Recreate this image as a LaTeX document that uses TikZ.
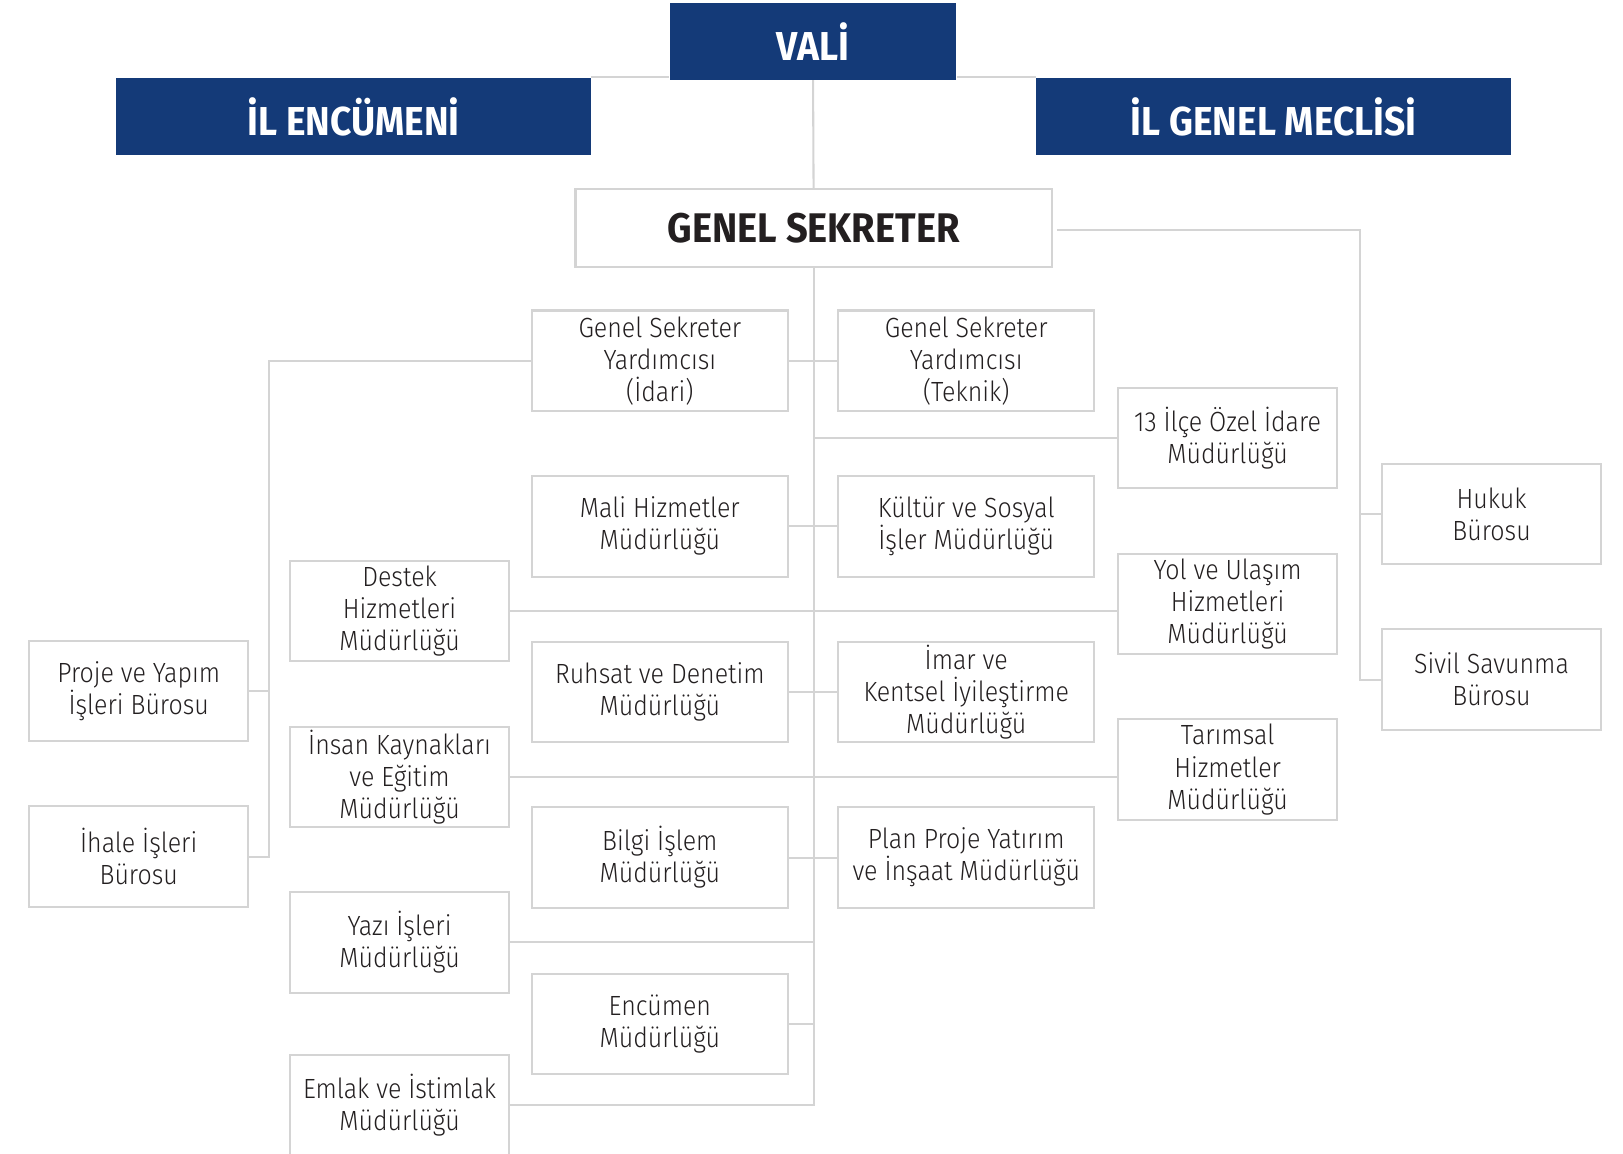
\documentclass[tikz,border=0pt]{standalone}
\usepackage{fontspec}
\setmainfont{Fira Sans}[UprightFont=* Light, BoldFont=* Bold, FakeStretch=0.9]
\newfontfamily\headfont{Fira Sans}[UprightFont=* Bold, FakeStretch=0.92]
\definecolor{navy}{RGB}{20,58,120}
\definecolor{linegray}{RGB}{212,212,212}
\definecolor{txt}{RGB}{35,31,32}
\tikzset{
  x=0.5pt, y=-0.5pt,
  conn/.style={draw=linegray, line width=1pt},
  box/.style={draw=linegray, line width=1pt, fill=white, inner sep=0pt, align=center,
    text=txt, font=\fontsize{13.4}{15.5}\selectfont, minimum height=48.5pt},
  narrowbox/.style={box, minimum width=106pt},
  widebox/.style={box, minimum width=123.5pt},
  headbox/.style={fill=navy, inner sep=0pt, text=white, font=\headfont\fontsize{19.5}{22}\selectfont, minimum height=37.5pt},
}
\begin{document}
\begin{tikzpicture}
\useasboundingbox (0,0) rectangle (1568,1114);
% top level
\node[headbox, minimum width=138.5pt, minimum height=37pt] (vali) at (785.5,40) {VALİ};
\node[headbox, minimum width=229.5pt] (enc) at (341.5,112.5) {İL ENCÜMENİ};
\node[headbox, minimum width=229.5pt] (mec) at (1230.5,112.5) {İL GENEL MECLİSİ};
\node[box, minimum width=230pt, minimum height=37.5pt, font=\headfont\fontsize{20}{22}\selectfont] (gs) at (786,220.5) {GENEL SEKRETER};
% column C
\node[widebox] (gsi) at (637.5,348.5) {Genel Sekreter\\Yardımcısı\\(İdari)};
\node[widebox] (mali) at (637.5,508.5) {Mali Hizmetler\\Müdürlüğü};
\node[widebox] (ruhsat) at (637.5,668.5) {Ruhsat ve Denetim\\Müdürlüğü};
\node[widebox] (bilgi) at (637.5,828.5) {Bilgi İşlem\\Müdürlüğü};
\node[widebox] (encm) at (637.5,989.5) {Encümen\\Müdürlüğü};
% column D
\node[widebox] (gst) at (933.5,348.5) {Genel Sekreter\\Yardımcısı\\(Teknik)};
\node[widebox] (kultur) at (933.5,508.5) {Kültür ve Sosyal\\İşler Müdürlüğü};
\node[widebox] (imar) at (933.5,668.5) {İmar ve\\Kentsel İyileştirme\\Müdürlüğü};
\node[widebox] (plan) at (933.5,828.5) {Plan Proje Yatırım\\ve İnşaat Müdürlüğü};
% column E
\node[narrowbox] (ilce) at (1186,423) {13 İlçe Özel İdare\\Müdürlüğü};
\node[narrowbox] (yol) at (1186,583.5) {Yol ve Ulaşım\\Hizmetleri\\Müdürlüğü};
\node[narrowbox] (tarim) at (1186,743.5) {Tarımsal\\Hizmetler\\Müdürlüğü};
% column F
\node[narrowbox] (hukuk) at (1441,496.5) {Hukuk\\Bürosu};
\node[narrowbox] (sivil) at (1441,656.5) {Sivil Savunma\\Bürosu};
% column B
\node[narrowbox] (destek) at (386,590.5) {Destek\\Hizmetleri\\Müdürlüğü};
\node[narrowbox] (insan) at (386,750.5) {İnsan Kaynakları\\ve Eğitim\\Müdürlüğü};
\node[narrowbox] (yazi) at (386,910.5) {Yazı İşleri\\Müdürlüğü};
\node[narrowbox] (emlak) at (386,1067.5) {Emlak ve İstimlak\\Müdürlüğü};
% column A
\node[narrowbox] (proje) at (134,667.5) {Proje ve Yapım\\İşleri Bürosu};
\node[narrowbox] (ihale) at (134,827.5) {İhale İşleri\\Bürosu};
% bus coordinates
\coordinate (rbus) at (1314,222);
\coordinate (lbus) at (260,348.5);
% connectors
\draw[conn] (enc.north east) -- (enc.north east -| vali.west);
\draw[conn] (mec.north west) -- (mec.north west -| vali.east);
\draw[conn] (vali.south) -- (gs.north);
\draw[conn, shorten <=2pt] (gs.east |- rbus) -- (rbus) |- (sivil.west);
\draw[conn] (hukuk.west) -- (hukuk.west -| rbus);
\draw[conn] (gs.south) -- (gs.south |- emlak.east) -- (emlak.east);
\draw[conn] (gsi.east) -- (gst.west);
\draw[conn] (mali.east) -- (kultur.west);
\draw[conn] (ruhsat.east) -- (imar.west);
\draw[conn] (bilgi.east) -- (plan.west);
\draw[conn] (encm.east) -- (encm.east -| gs.south);
\draw[conn] (ilce.west) -- (ilce.west -| gs.south);
\draw[conn] (destek.east) -- (destek.east -| yol.west);
\draw[conn] (insan.east) -- (insan.east -| tarim.west);
\draw[conn] (yazi.east) -- (yazi.east -| gs.south);
\draw[conn] (gsi.west) -- (lbus) |- (ihale.east);
\draw[conn] (proje.east) -- (proje.east -| lbus);
\end{tikzpicture}
\end{document}
